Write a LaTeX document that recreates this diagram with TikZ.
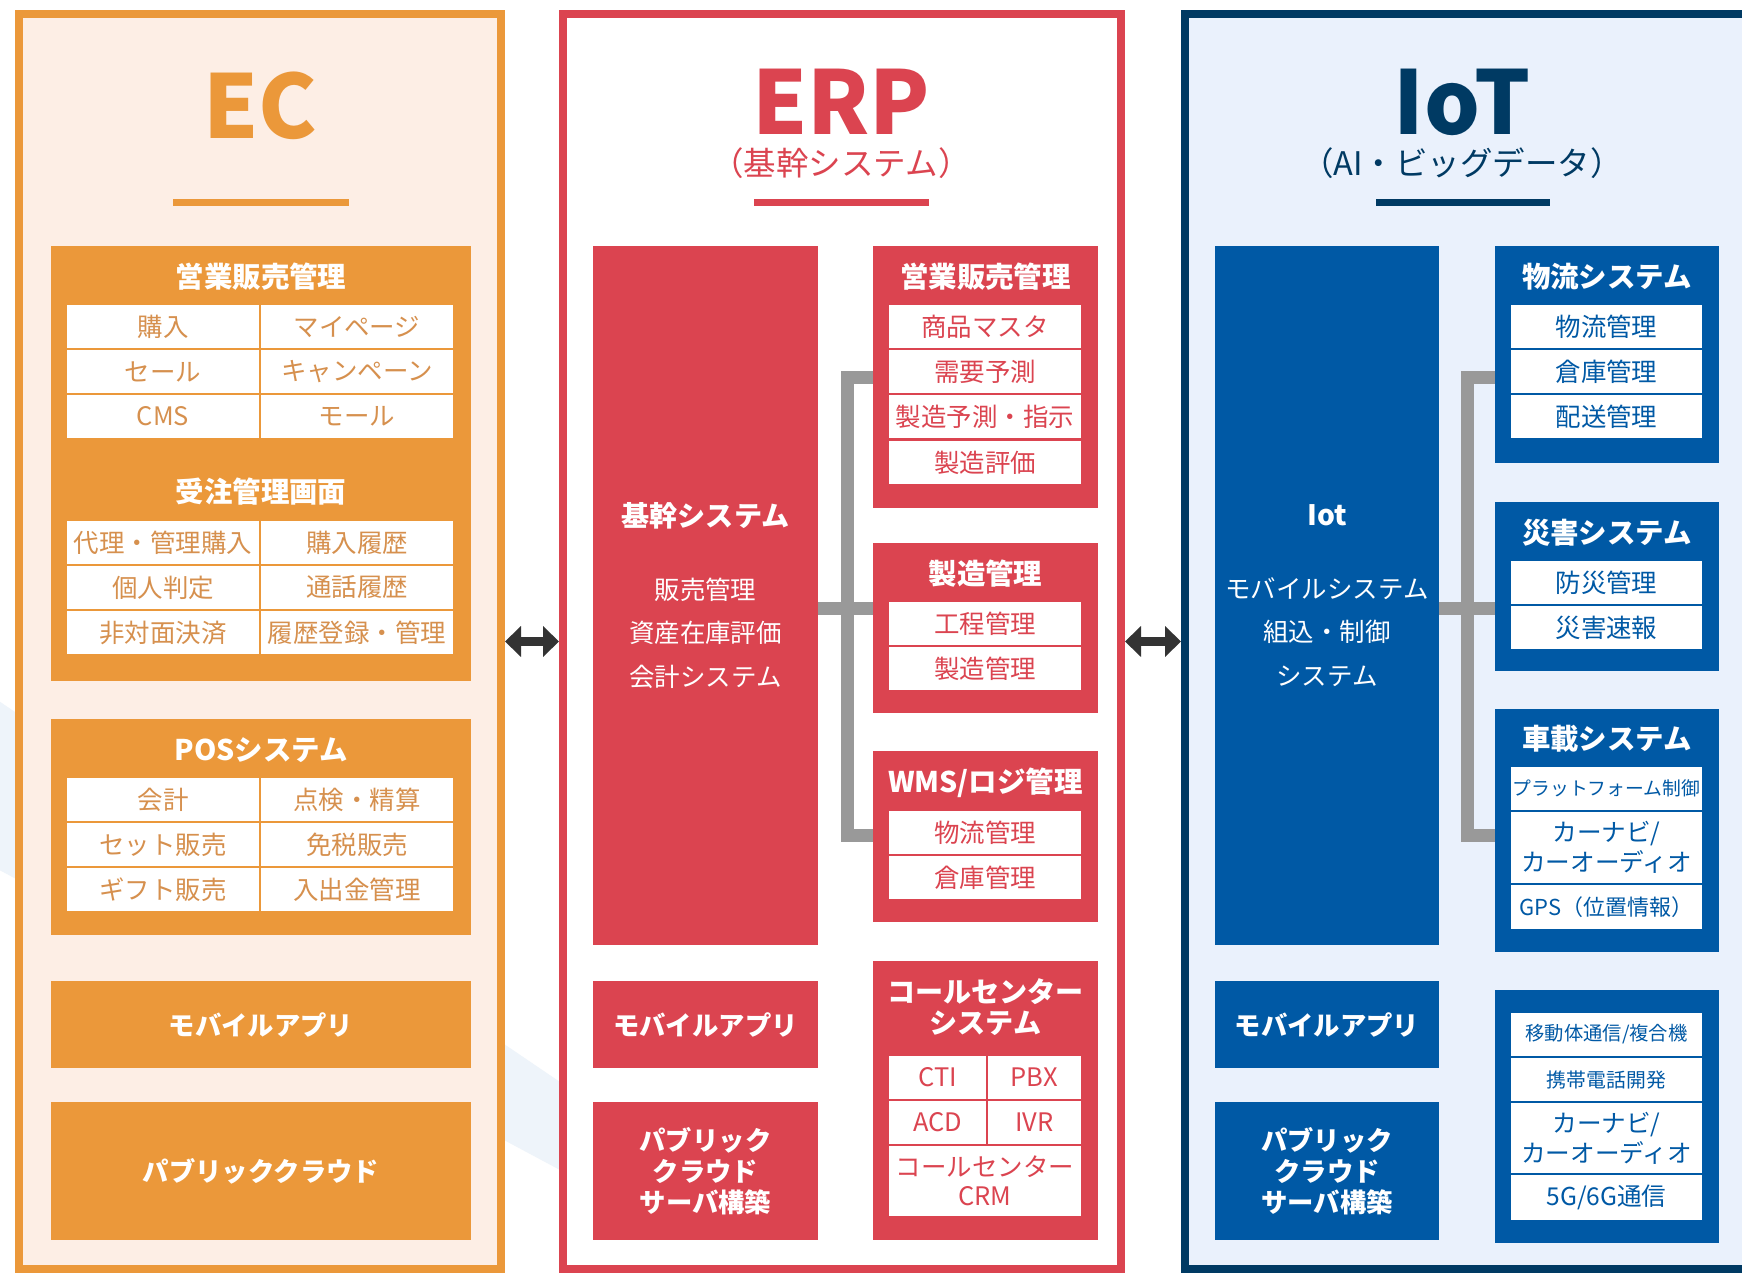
\documentclass[tikz,border=0pt]{standalone}
\usepackage{fontspec}
\setmainfont{Noto Sans CJK JP}
\usepackage{tikz}
\usetikzlibrary{fit,arrows.meta}

\definecolor{ecorange}{RGB}{235,152,58}
\definecolor{ecback}{RGB}{253,238,229}
\definecolor{ectext}{RGB}{214,144,78}
\definecolor{erpred}{RGB}{219,68,80}
\definecolor{iotnavy}{RGB}{0,58,99}
\definecolor{iotblue}{RGB}{0,89,165}
\definecolor{iotback}{RGB}{234,241,252}
\definecolor{bargray}{RGB}{153,153,153}
\definecolor{arrowgray}{RGB}{51,51,51}
\definecolor{bandblue}{RGB}{238,244,250}

\tikzset{
  panel/.style={line width=1.6mm, inner sep=0pt},
  blk/.style={inner sep=0pt, outer sep=0pt, text=white, align=center, font=\bfseries\fontsize{15}{17.6}\selectfont},
  cell/.style={fill=white, inner sep=0pt, outer sep=0pt, align=center, minimum width=38.4mm, minimum height=8.6mm, font=\fontsize{14.5}{17}\selectfont},
  boxtitle/.style={inner sep=0pt, text=white, align=center, font=\bfseries\fontsize{16.2}{17.6}\selectfont},
  bigtitle/.style={inner sep=0pt, font=\bfseries\fontsize{50}{50}\selectfont},
  subtitle/.style={inner sep=0pt, font=\fontsize{18.5}{20}\selectfont},
  bar/.style={bargray, line width=2.6mm},
  biarrow/.style={arrowgray, line width=1.8mm, >={Triangle[length=3.2mm, width=6mm]}, <->},
}

\begin{document}
\begin{tikzpicture}[x=0.02cm, y=-0.02cm]

\clip (0,0) rectangle (1742,1273);
\fill[white] (0,0) rectangle (1742,1273);
\fill[bandblue] (-10,695) -- (560,1082) -- (560,1170) -- (-10,865) -- cycle;

% EC
\node[panel, draw=ecorange, fill=ecback, fit={(19,14) (501,1269)}] (ec) {};
\node[bigtitle, text=ecorange] (ectitle) at (260,106) {EC};
\draw[ecorange, line width=1.4mm] (173,203) -- (349,203);

\node[blk, fill=ecorange, fit={(51,246) (471,681)}] (ecsales) {};
\node[boxtitle] (ecsalest) at (261,277) {営業販売管理};
\foreach \i/\y/\a/\b in {1/304/購入/マイページ, 2/349/セール/キャンペーン, 3/394/CMS/モール}
{
    \node[cell, text=ectext] (ecsales\i-l) at (163,\y+22.5) {\a};
    \node[cell, text=ectext] (ecsales\i-r) at (357,\y+22.5) {\b};
}
\node[boxtitle] (ecordert) at (261,492) {受注管理画面};
\foreach \i/\y/\a/\b in {1/520/代理・管理購入/購入履歴, 2/565/個人判定/通話履歴, 3/610/非対面決済/履歴登録・管理}
{
    \node[cell, text=ectext] (ecorder\i-l) at (163,\y+22.5) {\a};
    \node[cell, text=ectext] (ecorder\i-r) at (357,\y+22.5) {\b};
}

\node[blk, fill=ecorange, fit={(51,719) (471,935)}] (ecpos) {};
\node[boxtitle] (ecpost) at (261,750) {POSシステム};
\foreach \i/\y/\a/\b in {1/777/会計/点検・精算, 2/822/セット販売/免税販売, 3/867/ギフト販売/入出金管理}
{
    \node[cell, text=ectext] (ecpos\i-l) at (163,\y+22.5) {\a};
    \node[cell, text=ectext] (ecpos\i-r) at (357,\y+22.5) {\b};
}

\node[blk, fill=ecorange, minimum width=84mm, minimum height=17.4mm] (ecmob) at (261,1024.5) {モバイルアプリ};
\node[blk, fill=ecorange, minimum width=84mm, minimum height=27.6mm] (eccloud) at (261,1171) {パブリッククラウド};

% ERP
\node[panel, draw=erpred, fill=white, fit={(563,14) (1121,1269)}] (erp) {};
\node[bigtitle, text=erpred] (erptitle) at (841,102) {ERP};
\node[subtitle, text=erpred] (erpsub) at (841,163) {（基幹システム）};
\draw[erpred, line width=1.4mm] (754,203) -- (929,203);

\node[blk, fill=erpred, font=\fontsize{14.5}{24.7}\selectfont, minimum width=45mm, minimum height=139.8mm] (kikan) at (705.5,595.5)
    {{\bfseries\fontsize{16}{18}\selectfont 基幹システム}\\[16.8pt]販売管理\\資産在庫評価\\会計システム};

\node[blk, fill=erpred, fit={(873,246) (1098,508)}] (erpsales) {};
\node[boxtitle] (erpsalest) at (985.5,277) {営業販売管理};
\foreach \i/\y/\a in {1/304/商品マスタ, 2/349/需要予測, 3/394/製造予測・指示, 4/440/製造評価}
{
    \node[cell, text=erpred] (erpsales\i) at (985,\y+22.5) {\a};
}

\node[blk, fill=erpred, fit={(873,543) (1098,713)}] (erpmfg) {};
\node[boxtitle] (erpmfgt) at (985.5,574) {製造管理};
\foreach \i/\y/\a in {1/601/工程管理, 2/646/製造管理}
{
    \node[cell, text=erpred] (erpmfg\i) at (985,\y+22.5) {\a};
}

\node[blk, fill=erpred, fit={(873,751) (1098,922)}] (erpwms) {};
\node[boxtitle] (erpwmst) at (985.5,783) {WMS/ロジ管理};
\foreach \i/\y/\a in {1/810/物流管理, 2/855/倉庫管理}
{
    \node[cell, text=erpred] (erpwms\i) at (985,\y+22.5) {\a};
}

\node[blk, fill=erpred, fit={(873,961) (1098,1240)}] (erpcall) {};
\node[boxtitle, font=\bfseries\fontsize{16}{17.6}\selectfont] (erpcallt) at (985.5,1007.5) {コールセンター\\システム};
\node[cell, text=erpred, minimum width=19.4mm] (erpcti) at (937.5,1077.5) {CTI};
\node[cell, text=erpred, minimum width=18.6mm] (erppbx) at (1034.5,1077.5) {PBX};
\node[cell, text=erpred, minimum width=19.4mm] (erpacd) at (937.5,1122.5) {ACD};
\node[cell, text=erpred, minimum width=18.6mm] (erpivr) at (1034.5,1122.5) {IVR};
\node[cell, text=erpred, minimum height=14mm, font=\fontsize{14.5}{16.5}\selectfont] (erpcrm) at (985,1181) {コールセンター\\CRM};

\node[blk, fill=erpred, minimum width=45mm, minimum height=17.4mm] (erpmob) at (705.5,1024.5) {モバイルアプリ};
\node[blk, fill=erpred, minimum width=45mm, minimum height=27.6mm] (erpcloud) at (705.5,1171) {パブリック\\クラウド\\サーバ構築};

\coordinate (erpT) at (847.5,377.5);
\coordinate (erpM) at (847.5,608.5);
\coordinate (erpU) at (847.5,835.5);
\draw[bar] (erpT -| erpsales.west) -- (erpT) -- (erpU) -- (erpU -| erpwms.west);
\draw[bar] (erpM -| kikan.east) -- (erpM -| erpmfg.west);

% IoT
\node[panel, draw=iotnavy, fill=iotback, fit={(1185,14) (1800,1269)}] (iot) {};
\node[bigtitle, text=iotnavy] (iottitle) at (1462,102) {IoT};
\node[subtitle, text=iotnavy] (iotsub) at (1462,163) {（AI・ビッグデータ）};
\draw[iotnavy, line width=1.4mm] (1376,203) -- (1550,203);

\node[blk, fill=iotblue, font=\fontsize{14.5}{24.7}\selectfont, minimum width=44.8mm, minimum height=139.8mm] (iotcore) at (1327,595.5)
    {{\bfseries\fontsize{16}{18}\selectfont Iot}\\[16.8pt]モバイルシステム\\組込・制御\\システム};

\node[blk, fill=iotblue, fit={(1495,246) (1719,463)}] (iotlog) {};
\node[boxtitle] (iotlogt) at (1607,277) {物流システム};
\foreach \i/\y/\a in {1/304/物流管理, 2/349/倉庫管理, 3/394/配送管理}
{
    \node[cell, text=iotblue, minimum width=38.2mm] (iotlog\i) at (1606.5,\y+22.5) {\a};
}

\node[blk, fill=iotblue, fit={(1495,502) (1719,671)}] (iotdis) {};
\node[boxtitle] (iotdist) at (1607,533) {災害システム};
\foreach \i/\y/\a in {1/560/防災管理, 2/605/災害速報}
{
    \node[cell, text=iotblue, minimum width=38.2mm] (iotdis\i) at (1606.5,\y+22.5) {\a};
}

\node[blk, fill=iotblue, fit={(1495,709) (1719,952)}] (iotcar) {};
\node[boxtitle] (iotcart) at (1607,739) {車載システム};
\node[cell, text=iotblue, minimum width=38.2mm, font=\fontsize{10.7}{13}\selectfont] (iotcar1) at (1606.5,788.5) {プラットフォーム制御};
\node[cell, text=iotblue, minimum width=38.2mm, minimum height=14.2mm, font=\fontsize{14}{17}\selectfont] (iotcar2) at (1606.5,847.5) {カーナビ/\\カーオーディオ};
\node[cell, text=iotblue, minimum width=38.2mm, minimum height=8.8mm, font=\fontsize{12.5}{15}\selectfont] (iotcar3) at (1606.5,907) {GPS（位置情報）};

\node[blk, fill=iotblue, fit={(1495,990) (1719,1243)}] (iotcom) {};
\node[cell, text=iotblue, minimum width=38.2mm, font=\fontsize{11}{13}\selectfont] (iotcom1) at (1606.5,1034.5) {移動体通信/複合機};
\node[cell, text=iotblue, minimum width=38.2mm, font=\fontsize{11.3}{13}\selectfont] (iotcom2) at (1606.5,1079.5) {携帯電話開発};
\node[cell, text=iotblue, minimum width=38.2mm, minimum height=14mm, font=\fontsize{14}{17}\selectfont] (iotcom3) at (1606.5,1138) {カーナビ/\\カーオーディオ};
\node[cell, text=iotblue, minimum width=38.2mm, minimum height=9mm, font=\fontsize{14}{17}\selectfont] (iotcom4) at (1606.5,1197.5) {5G/6G通信};

\node[blk, fill=iotblue, minimum width=44.8mm, minimum height=17.4mm] (iotmob) at (1327,1024.5) {モバイルアプリ};
\node[blk, fill=iotblue, minimum width=44.8mm, minimum height=27.6mm] (iotcloud) at (1327,1171) {パブリック\\クラウド\\サーバ構築};

\coordinate (iotT) at (1467.5,377.5);
\coordinate (iotM) at (1467.5,608.5);
\coordinate (iotU) at (1467.5,835.5);
\draw[bar] (iotT -| iotlog.west) -- (iotT) -- (iotU) -- (iotU -| iotcar.west);
\draw[bar] (iotM -| iotcore.east) -- (iotM -| iotdis.west);

% links between the three
\draw[biarrow] (ec.east) -- (erp.west);
\draw[biarrow] (erp.east) -- (iot.west);

\end{tikzpicture}
\end{document}
